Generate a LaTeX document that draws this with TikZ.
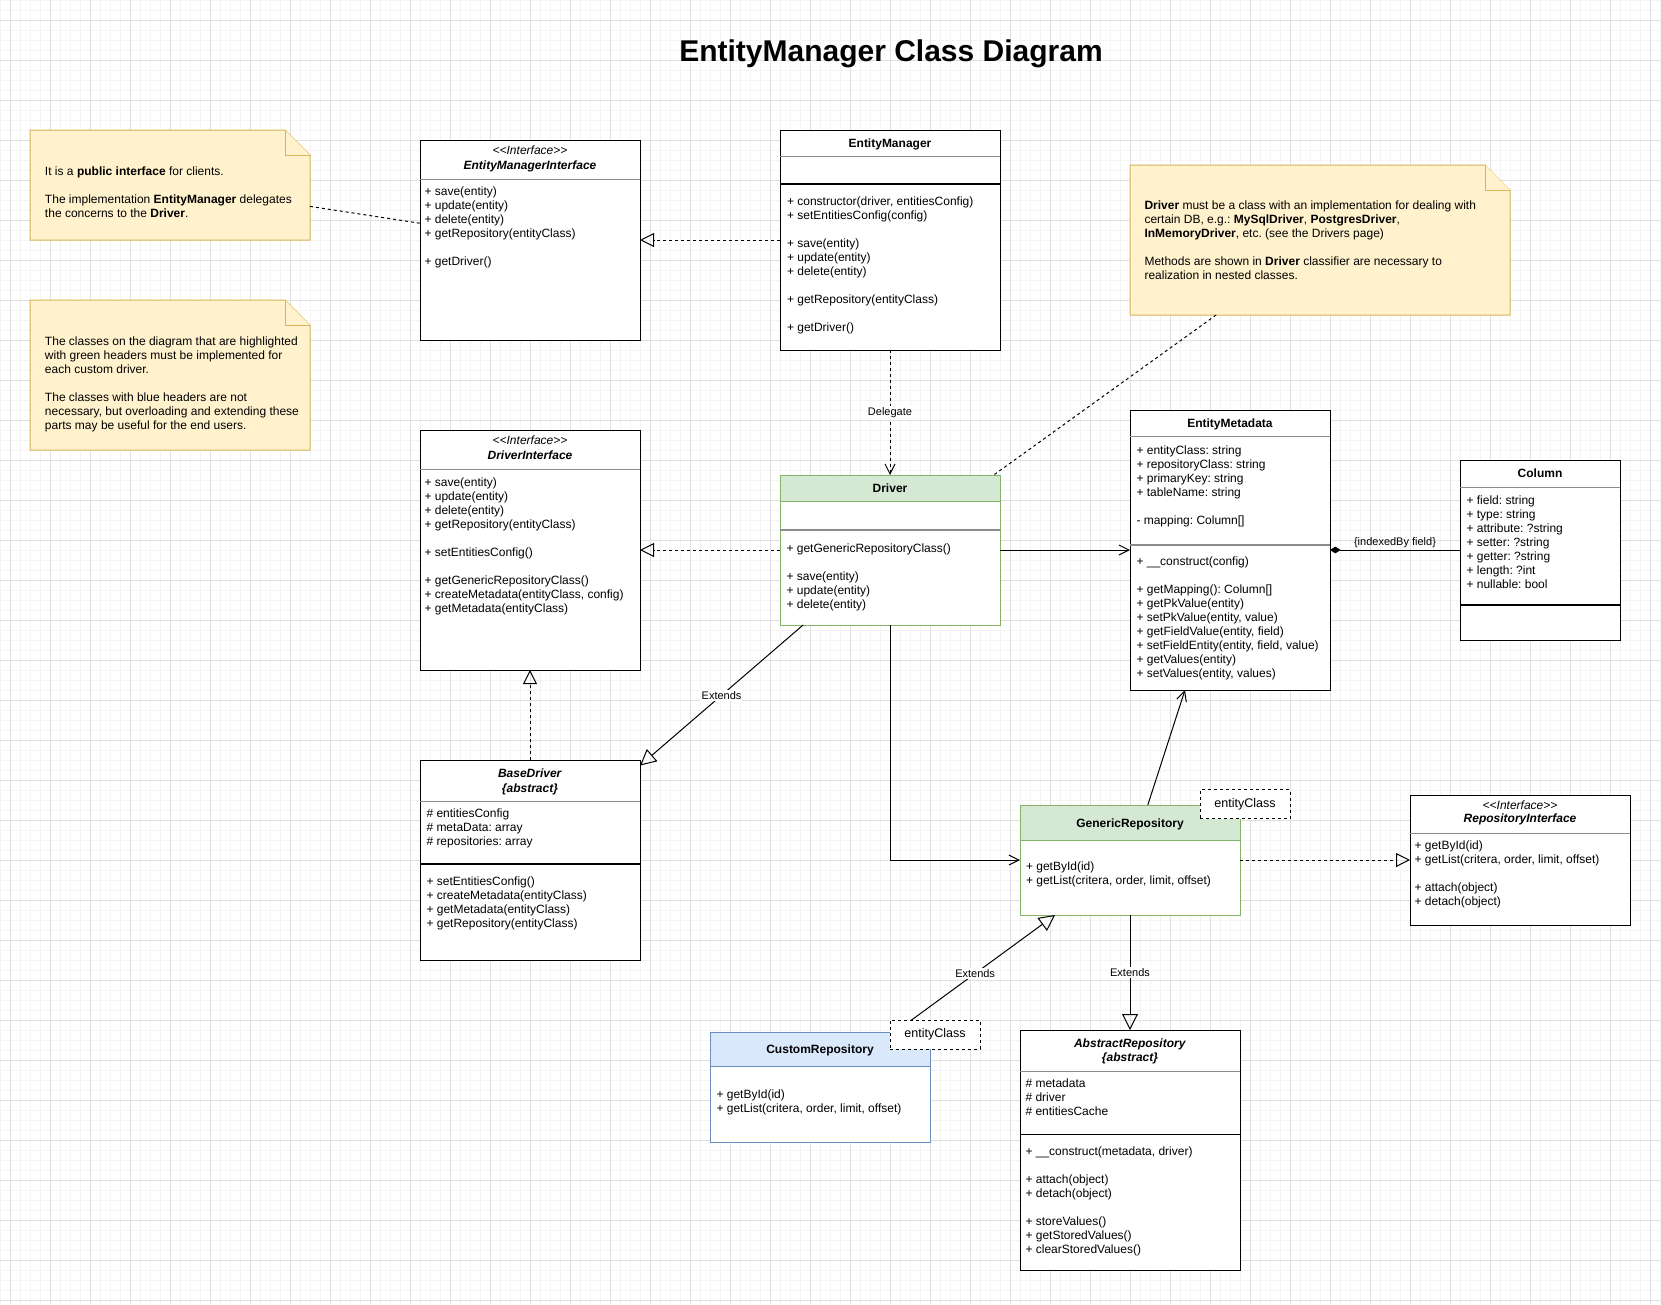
\documentclass[tikz,border=0pt]{standalone}
\usepackage{fontspec}
\setmainfont{Liberation Sans}
\usetikzlibrary{arrows.meta}
\definecolor{majorgrid}{HTML}{E0E0E0}
\definecolor{minorgrid}{HTML}{F4F4F4}
\definecolor{notefill}{HTML}{FFF2CC}
\definecolor{notestroke}{HTML}{D6B656}
\definecolor{greenfill}{HTML}{D5E8D4}
\definecolor{greenstroke}{HTML}{82B366}
\definecolor{bluefill}{HTML}{DAE8FC}
\definecolor{bluestroke}{HTML}{6C8EBF}
\definecolor{sepgray}{HTML}{8C8C8C}
\frenchspacing
\newcommand\bodyfont{\fontsize{9}{10.5}\selectfont}
\newcommand\lblfont{\fontsize{8.25}{9.9}\selectfont}
\newcommand\tmplfont{\fontsize{9.4}{11}\selectfont}
\newcommand\mlines[1]{\begin{tabular}[t]{@{}l@{}}#1\end{tabular}}
\newcommand\stereo{\textit{<\kern0pt<Interface>\kern0pt>}}
\newcommand\classbox[6][black]{\node[cbox, draw=#1, minimum width=#5*0.75pt, minimum height=#6*0.75pt] (#2) at (#3,#4) {};}
\newcommand\notebox[5]{%
  \node[notebg, minimum width=#4*0.75pt, minimum height=#5*0.75pt] (#1) at (#2,#3) {};
  \draw[notestyle] (#1.north west) -- ([xshift=-18.75pt]#1.north east) -- ([yshift=-18.75pt]#1.north east) -- (#1.south east) -- (#1.south west) -- cycle;
  \draw[notestyle] ([xshift=-18.75pt]#1.north east) -- ([xshift=-18.75pt,yshift=-18.75pt]#1.north east) -- ([yshift=-18.75pt]#1.north east);
}
\begin{document}
\frenchspacing
\begin{tikzpicture}[x=0.75pt,y=-0.75pt, line width=0.75pt,
  minorg/.style={draw=minorgrid, line width=0.75pt},
  majorg/.style={draw=majorgrid, line width=0.75pt},
  cbox/.style={draw=black, fill=white, line width=0.75pt, inner sep=0pt, outer sep=0pt, anchor=north west},
  notebg/.style={inner sep=0pt, outer sep=0pt, anchor=north west},
  notestyle/.style={fill=notefill, draw=notestroke, line width=0.75pt},
  txt/.style={inner sep=0pt, anchor=base west, font=\bodyfont},
  ctxt/.style={inner sep=0pt, anchor=base, font=\bodyfont},
  lbl/.style={font=\lblfont, fill=white, inner sep=1pt},
  tmpl/.style={draw=black, dash pattern=on 2.25pt off 2.25pt, fill=white, font=\tmplfont, inner sep=0pt, minimum width=67.5pt, minimum height=21.75pt},
  dsh/.style={dash pattern=on 2.25pt off 2.25pt},
  realize/.style={dsh, -{Triangle[open, length=10.5pt, width=10.5pt]}},
  extend/.style={-{Triangle[open, length=12pt, width=12pt]}},
  assoc/.style={-{Straight Barb[length=7.5pt, width=7.5pt]}},
  depend/.style={dsh, -{Straight Barb[length=7.5pt, width=7.5pt]}},
  compo/.style={-{Diamond[length=8pt, width=5pt, fill=black]}},
  sep/.style={draw=sepgray, line width=0.75pt},
  div/.style={draw=black, line width=1pt},
  thdiv/.style={draw=sepgray, line width=1.5pt},
]
\useasboundingbox (0,0) rectangle (1661,1304);
\fill[white] (0,0) rectangle (1661,1304);
% grid
\foreach \i in {0,...,166} { \draw[minorg] (\i*10,0) -- (\i*10,1304); }
\foreach \j in {0,...,130} { \draw[minorg] (0,\j*10) -- (1661,\j*10); }
\foreach \i in {0,...,41} { \draw[majorg] (10+\i*40,0) -- (10+\i*40,1304); }
\foreach \j in {0,...,32} { \draw[majorg] (0,20+\j*40) -- (1661,20+\j*40); }

% title
\node[inner sep=0pt, anchor=base, font=\fontsize{22.5}{27}\selectfont\bfseries] (title) at (891,61) {EntityManager Class Diagram};

% notes
\notebox{n1}{30}{130}{280}{110}
\notebox{n2}{30}{300}{280}{150}
\notebox{n3}{1130}{165}{380}{150}
\node[txt] (n1t) at (44.5,175) {\mlines{It is a \textbf{public interface} for clients.\\ \\ The implementation \textbf{EntityManager} delegates\\ the concerns to the \textbf{Driver}.}};
\node[txt] (n2t) at (44.5,345) {\mlines{The classes on the diagram that are highlighted\\ with green headers must be implemented for\\ each custom driver.\\ \\ The classes with blue headers are not\\ necessary, but overloading and extending these\\ parts may be useful for the end users.}};
\node[txt] (n3t) at (1144,209.5) {\mlines{\textbf{Driver} must be a class with an implementation for dealing with\\ certain DB, e.g.: \textbf{MySqlDriver}, \textbf{PostgresDriver},\\ \textbf{InMemoryDriver}, etc. (see the Drivers page)\\ \\ Methods are shown in \textbf{Driver} classifier are necessary to\\ realization in nested classes.}};

% EntityManagerInterface
\classbox{emi}{420}{140}{220}{200}
\draw[sep] (420,179) -- (640,179);
\node[ctxt] (emi-s) at (530,154.5) {\stereo};
\node[ctxt] (emi-n) at (530,169.5) {\textbf{\textit{EntityManagerInterface}}};
\node[txt] (emi-m) at (424,195.7) {\mlines{+ save(entity)\\ + update(entity)\\ + delete(entity)\\ + getRepository(entityClass)\\ \\ + getDriver()}};

% EntityManager
\classbox{em}{780}{130}{220}{220}
\draw[sep] (780,156) -- (1000,156);
\draw[div] (780,184) -- (1000,184);
\node[ctxt] (em-n) at (890,147) {\textbf{EntityManager}};
\node[txt] (em-m) at (786.5,205.5) {\mlines{+ constructor(driver, entitiesConfig)\\ + setEntitiesConfig(config)\\ \\ + save(entity)\\ + update(entity)\\ + delete(entity)\\ \\ + getRepository(entityClass)\\ \\ + getDriver()}};

% DriverInterface
\classbox{di}{420}{430}{220}{240}
\draw[sep] (420,469) -- (640,469);
\node[ctxt] (di-s) at (530,444.7) {\stereo};
\node[ctxt] (di-n) at (530,459.5) {\textbf{\textit{DriverInterface}}};
\node[txt] (di-m) at (424,486) {\mlines{+ save(entity)\\ + update(entity)\\ + delete(entity)\\ + getRepository(entityClass)\\ \\ + setEntitiesConfig()\\ \\ + getGenericRepositoryClass()\\ + createMetadata(entityClass, config)\\ + getMetadata(entityClass)}};

% Driver
\classbox[greenstroke]{drv}{780}{475}{220}{150}
\filldraw[fill=greenfill, draw=greenstroke] (780,475) rectangle (1000,501);
\draw[thdiv] (780,530) -- (1000,530);
\node[ctxt] (drv-n) at (890,492.3) {\textbf{Driver}};
\node[txt] (drv-m) at (786,552.7) {\mlines{+ getGenericRepositoryClass()\\ \\ + save(entity)\\ + update(entity)\\ + delete(entity)}};

% BaseDriver
\classbox{bd}{420}{760}{220}{200}
\draw[sep] (420,801) -- (640,801);
\draw[div] (420,864) -- (640,864);
\node[ctxt] (bd-n) at (530,777.3) {\textbf{\textit{BaseDriver}}};
\node[ctxt] (bd-a) at (530,792) {\textbf{\textit{\{abstract\}}}};
\node[txt] (bd-f) at (426,817.5) {\mlines{\# entitiesConfig\\ \# metaData: array\\ \# repositories: array}};
\node[txt] (bd-m) at (426,885.3) {\mlines{+ setEntitiesConfig()\\ + createMetadata(entityClass)\\ + getMetadata(entityClass)\\ + getRepository(entityClass)}};

% EntityMetadata
\classbox{emd}{1130}{410}{200}{280}
\draw[sep] (1130,436) -- (1330,436);
\draw[thdiv] (1130,545) -- (1330,545);
\node[ctxt] (emd-n) at (1230,427.7) {\textbf{EntityMetadata}};
\node[txt] (emd-f) at (1136,454.2) {\mlines{+ entityClass: string\\ + repositoryClass: string\\ + primaryKey: string\\ + tableName: string\\ \\ - mapping: Column[]}};
\node[txt] (emd-m) at (1136,565.4) {\mlines{+ \_\_construct(config)\\ \\ + getMapping(): Column[]\\ + getPkValue(entity)\\ + setPkValue(entity, value)\\ + getFieldValue(entity, field)\\ + setFieldEntity(entity, field, value)\\ + getValues(entity)\\ + setValues(entity, values)}};

% Column
\classbox{col}{1460}{460}{160}{180}
\draw[sep] (1460,487) -- (1620,487);
\draw[div] (1460,605) -- (1620,605);
\node[ctxt] (col-n) at (1540,477.5) {\textbf{Column}};
\node[txt] (col-f) at (1466,504) {\mlines{+ field: string\\ + type: string\\ + attribute: ?string\\ + setter: ?string\\ + getter: ?string\\ + length: ?int\\ + nullable: bool}};

% GenericRepository
\classbox[greenstroke]{gr}{1020}{805}{220}{110}
\filldraw[fill=greenfill, draw=greenstroke] (1020,805) rectangle (1240,840);
\node[ctxt] (gr-n) at (1130,827) {\textbf{GenericRepository}};
\node[txt] (gr-m) at (1025.5,870.5) {\mlines{+ getById(id)\\ + getList(critera, order, limit, offset)}};

% RepositoryInterface
\classbox{ri}{1410}{795}{220}{130}
\draw[sep] (1410,833) -- (1630,833);
\node[ctxt] (ri-s) at (1520,809) {\stereo};
\node[ctxt] (ri-n) at (1520,822.8) {\textbf{\textit{RepositoryInterface}}};
\node[txt] (ri-m) at (1414,849.3) {\mlines{+ getById(id)\\ + getList(critera, order, limit, offset)\\ \\ + attach(object)\\ + detach(object)}};

% CustomRepository
\classbox[bluestroke]{cr}{710}{1032}{220}{110}
\filldraw[fill=bluefill, draw=bluestroke] (710,1032) rectangle (930,1066);
\node[ctxt] (cr-n) at (820,1053.8) {\textbf{CustomRepository}};
\node[txt] (cr-m) at (716,1098.3) {\mlines{+ getById(id)\\ + getList(critera, order, limit, offset)}};

% AbstractRepository
\classbox{ar}{1020}{1030}{220}{240}
\draw[sep] (1020,1071) -- (1240,1071);
\draw[div] (1020,1134.5) -- (1240,1134.5);
\node[ctxt] (ar-n) at (1130,1047.4) {\textbf{\textit{AbstractRepository}}};
\node[ctxt] (ar-a) at (1130,1061) {\textbf{\textit{\{abstract\}}}};
\node[txt] (ar-f) at (1025,1087.7) {\mlines{\# metadata\\ \# driver\\ \# entitiesCache}};
\node[txt] (ar-m) at (1025,1155.5) {\mlines{+ \_\_construct(metadata, driver)\\ \\ + attach(object)\\ + detach(object)\\ \\ + storeValues()\\ + getStoredValues()\\ + clearStoredValues()}};

% connectors
\draw[dsh] (n1) -- (emi);
\draw[realize] (em) -- (emi);
\draw[depend] (em) -- node[lbl] (lbl-del) {Delegate} (drv);
\draw[dsh] (n3) -- (drv);
\draw[realize] (drv) -- (di);
\draw[assoc] (drv) -- (emd);
\draw[extend] (drv) -- node[lbl] (lbl-ext1) {Extends} (bd);
\draw[realize] (bd) -- (di);
\draw[assoc] (drv.south) |- (gr.west);
\draw[compo] (col) -- node[font=\lblfont, inner sep=0pt, anchor=base, yshift=3.75pt] (lbl-idx) {\{indexedBy field\}} (emd);
\draw[assoc] (gr) -- (emd);
\draw[realize] (gr) -- (ri);
\draw[extend] (cr) -- node[lbl] (lbl-ext2) {Extends} (gr);
\draw[extend] (gr) -- node[lbl] (lbl-ext3) {Extends} (ar);

% template parameters
\node[tmpl] (gr-t) at (1245,804) {entityClass};
\node[tmpl] (cr-t) at (935,1034.5) {entityClass};
\end{tikzpicture}
\end{document}
